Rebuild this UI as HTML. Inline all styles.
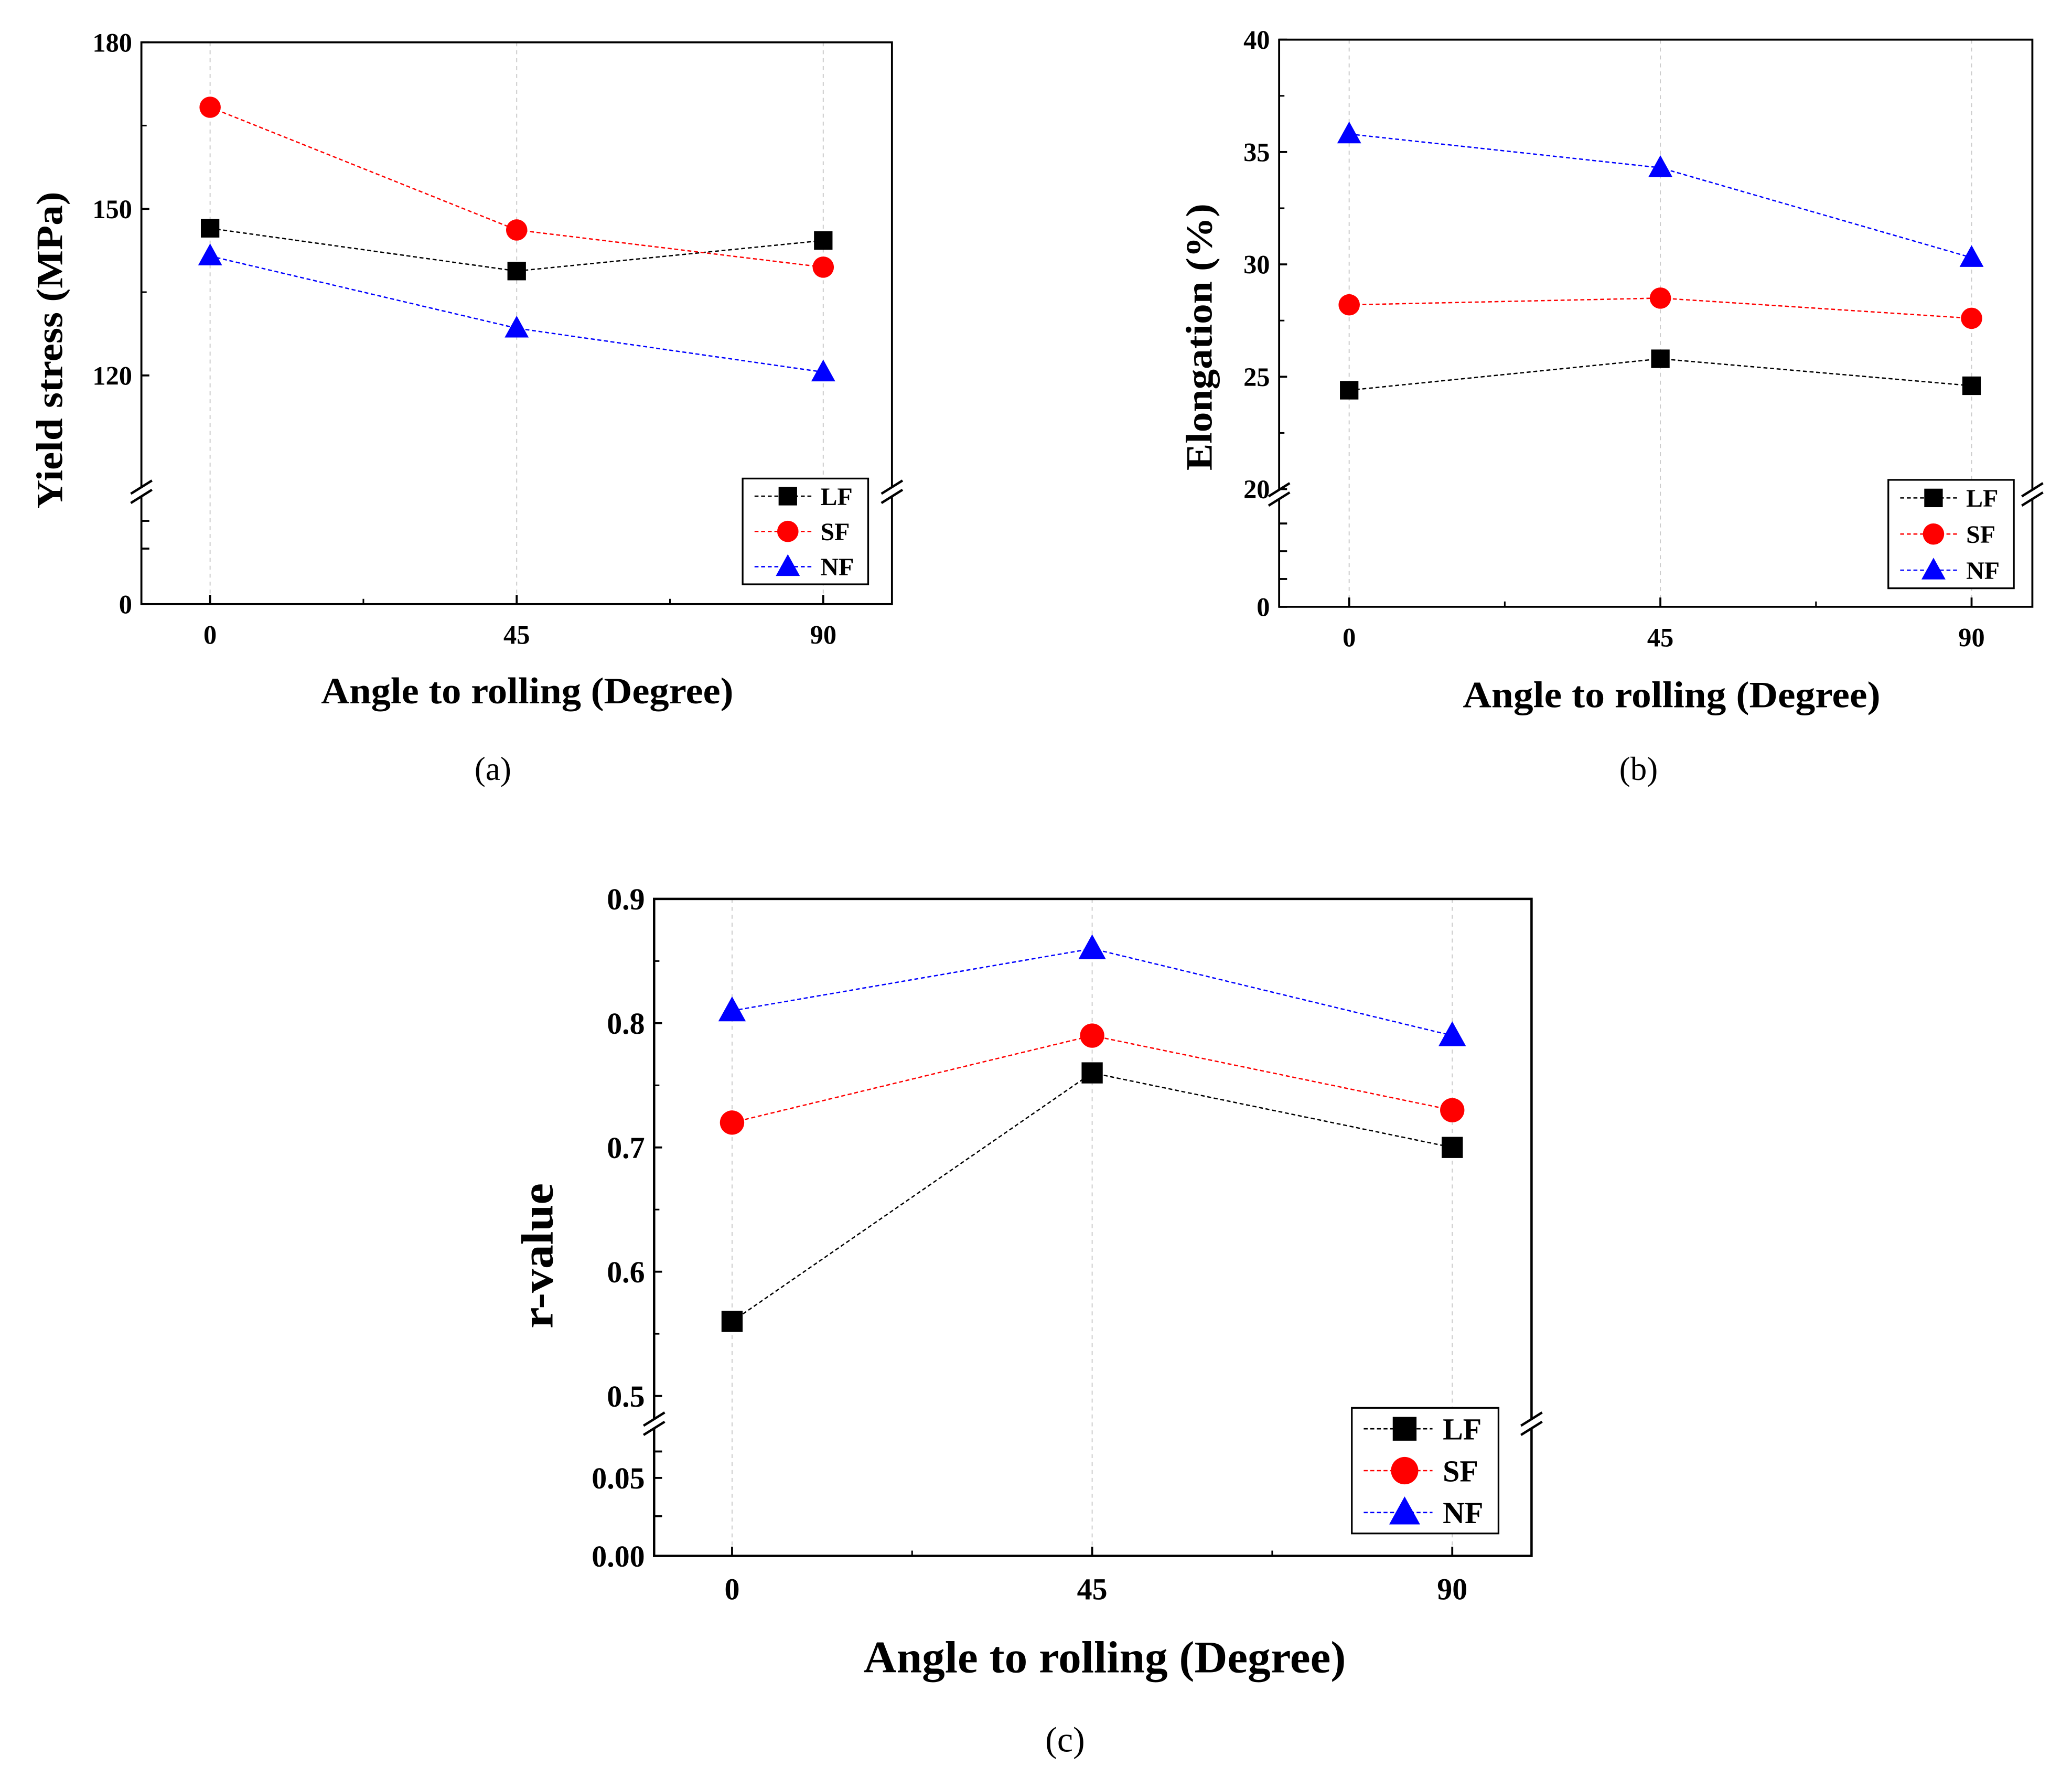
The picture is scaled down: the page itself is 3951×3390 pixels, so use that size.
<!DOCTYPE html>
<html><head><meta charset="utf-8"><style>
html,body{margin:0;padding:0;background:#fff}
svg{display:block}
text{font-family:"Liberation Serif",serif;font-weight:bold;fill:#000}
</style></head><body>
<svg id="fig" width="3951" height="3390" viewBox="0 0 1568 1345" preserveAspectRatio="none" xmlns="http://www.w3.org/2000/svg"></svg>
<script>
const angles=[0,45,90];
const seriesNames=["LF","SF","NF"];
const yieldLF=[146.5,138.8,144.3];
const yieldSF=[168.3,146.2,139.5];
const yieldNF=[141.5,128.5,120.6];
const elongLF=[24.4,25.8,24.6];
const elongSF=[28.2,28.5,27.6];
const elongNF=[35.8,34.3,30.3];
const rLF=[0.56,0.76,0.70];
const rSF=[0.72,0.79,0.73];
const rNF=[0.81,0.86,0.79];
const yieldTicks=["180","150","120"];
const elongTicks=["40","35","30","25","20"];
const rTicks=["0.9","0.8","0.7","0.6","0.5"];
const xTicks=["0","45","90"];

const NS="http://www.w3.org/2000/svg";
const svg=document.getElementById('fig');
function mk(tag,attrs,parent){const e=document.createElementNS(NS,tag);for(const k in attrs)e.setAttribute(k,attrs[k]);(parent||svg).appendChild(e);return e;}
const colors=["#000","#f00","#00f"];

function panel(o){
  const g=mk('g',{});
  
  
  const xs=v=>o.x0+(v-0)/90*(o.x90-o.x0);
  const ys=v=>o.yTop+(o.vTop-v)*o.ppu;
  angles.forEach(a=>{const l=mk('line',{x1:xs(a),x2:xs(a),y1:o.top,y2:o.bot,stroke:'#ccc','stroke-width':0.8,'stroke-dasharray':'3,3'},g);
    });
  const f=mk('rect',{x:o.left,y:o.top,width:o.right-o.left,height:o.bot-o.top,fill:'none',stroke:'#000','stroke-width':o.sw},g);
  
  [o.left,o.right].forEach(bx=>{
    mk('rect',{x:bx-8,y:o.brk-4,width:16,height:8,fill:'#fff'},g);
    [-3.5,3.5].forEach(d=>{const l=mk('line',{x1:bx-8,y1:o.brk+d+5,x2:bx+8,y2:o.brk+d-5,stroke:'#000','stroke-width':1.8},g);
      });
  });
  o.yTickVals.forEach((t,i)=>{const y=ys(parseFloat(t));
    mk('line',{x1:o.left,x2:o.left+6,y1:y,y2:y,stroke:'#000','stroke-width':1.5},g);
    const tx=mk('text',{x:o.left-7,y:y+o.fs*0.35,'text-anchor':'end','font-size':o.fs},g);tx.textContent=t;
    
    if(i<o.yTickVals.length-1){const ym=ys(parseFloat(t)-o.step/2);mk('line',{x1:o.left,x2:o.left+4,y1:ym,y2:ym,stroke:'#000','stroke-width':1.2},g);}
  });
  o.lowTicks.forEach(lt=>{
    mk('line',{x1:o.left,x2:o.left+6,y1:lt.y,y2:lt.y,stroke:'#000','stroke-width':1.5},g);
    if(lt.label){const tx=mk('text',{x:o.left-7,y:lt.y+o.fs*0.35,'text-anchor':'end','font-size':o.fs},g);tx.textContent=lt.label;
      }
  });
  xTicks.forEach((t,i)=>{const x=xs(angles[i]);
    mk('line',{x1:x,x2:x,y1:o.bot,y2:o.bot-7,stroke:'#000','stroke-width':1.5},g);
    const tx=mk('text',{x:x,y:o.bot+o.fs+10,'text-anchor':'middle','font-size':o.fs},g);tx.textContent=t;
    
  });
  [22.5,67.5].forEach(a=>mk('line',{x1:xs(a),x2:xs(a),y1:o.bot,y2:o.bot-4,stroke:'#000','stroke-width':1.2},g));
  const xt=mk('text',{x:o.xtX,y:o.bot+o.xtOff,'text-anchor':'middle','font-size':o.tfs,textLength:o.xtLen,lengthAdjust:'spacingAndGlyphs'},g);xt.textContent="Angle to rolling (Degree)";
  
  const yt=mk('text',{x:0,y:0,'text-anchor':'middle','font-size':o.tfs,textLength:o.ytLen,lengthAdjust:'spacingAndGlyphs',transform:`translate(${o.ytX},${o.ytY}) rotate(-90)`},g);yt.textContent=o.ytitle;
  
  const cap=mk('text',{x:o.capX,y:o.capY,'text-anchor':'middle','font-size':o.cfs,style:'font-weight:normal'},g);cap.textContent=o.cap;
  
  function marker(k,x,y,s,parent){
    let m;
    if(k===0)m=mk('rect',{x:x-s,y:y-s,width:2*s,height:2*s,fill:colors[k]},parent);
    else if(k===1)m=mk('circle',{cx:x,cy:y,r:s*1.15,fill:colors[k]},parent);
    else m=mk('polygon',{points:`${x},${y-s*1.35} ${x-s*1.3},${y+s} ${x+s*1.3},${y+s}`,fill:colors[k]},parent);
    return m;
  }
  o.data.forEach((arr,k)=>{
    const pts=arr.map((v,i)=>xs(angles[i])+','+ys(v)).join(' ');
    const pl=mk('polyline',{points:pts,fill:'none',stroke:colors[k],'stroke-width':1,'stroke-dasharray':'3,2'},g);
    
    arr.forEach((v,i)=>{const m=marker(k,xs(angles[i]),ys(v),o.ms,g);
      });
  });
  const L=o.leg;
  const lg=mk('g',{},g);
  mk('rect',{x:L.x,y:L.y,width:L.w,height:L.h,fill:'#fff',stroke:'#000','stroke-width':1.3},lg);
  seriesNames.forEach((n,k)=>{const ey=L.y+L.h*(k+0.5)/3;
    const e=mk('g',{},lg);
    mk('line',{x1:L.x+9,x2:L.x+L.w*0.55,y1:ey,y2:ey,stroke:colors[k],'stroke-width':1,'stroke-dasharray':'3,2'},e);
    marker(k,L.x+L.w*0.36,ey,o.lms,e);
    const t=mk('text',{x:L.x+L.w*0.62,y:ey+o.lfs*0.35,'font-size':o.lfs},e);t.textContent=n;
  });
}

panel({name:'panel-a-yield-stress',left:107,right:675,top:32,bot:457,x0:159,x90:623,yTop:32,vTop:180,ppu:126/30,
  yTickVals:yieldTicks,step:30,brk:372,lowTicks:[{y:457,label:'0'},{y:415},{y:394}],sw:1.5,fs:20,lfs:19,tfs:28,xtOff:75,
  xtX:399,xtLen:312,ytX:47,ytY:265,ytLen:240,ytitle:'Yield stress (MPa)',cap:'(a)',capX:373,capY:590,cfs:25,ms:7,lms:7,
  data:[yieldLF,yieldSF,yieldNF],leg:{x:562,y:362,w:95,h:80}});
panel({name:'panel-b-elongation',left:968,right:1538,top:30,bot:459,x0:1021,x90:1492,yTop:30,vTop:40,ppu:17,
  yTickVals:elongTicks,step:5,brk:374,lowTicks:[{y:459,label:'0'},{y:438},{y:417},{y:396}],sw:1.5,fs:20,lfs:19,tfs:28,xtOff:76,
  xtX:1265,xtLen:316,ytX:917,ytY:255,ytLen:202,ytitle:'Elongation (%)',cap:'(b)',capX:1240,capY:590,cfs:25,ms:7,lms:7,
  data:[elongLF,elongSF,elongNF],leg:{x:1429,y:363,w:95,h:82}});
panel({name:'panel-c-r-value',left:495,right:1159,top:680,bot:1177,x0:554,x90:1099,yTop:680,vTop:0.9,ppu:940,
  yTickVals:rTicks,step:0.1,brk:1077,lowTicks:[{y:1177,label:'0.00'},{y:1147},{y:1118,label:'0.05'},{y:1098}],sw:1.8,fs:23,lfs:23,tfs:34,xtOff:88,
  xtX:836,xtLen:365,ytX:418,ytY:950,ytLen:110,ytitle:'r-value',cap:'(c)',capX:806,capY:1325,cfs:27,ms:8,lms:9,
  data:[rLF,rSF,rNF],leg:{x:1023,y:1065,w:111,h:95}});
</script>
</body></html>
